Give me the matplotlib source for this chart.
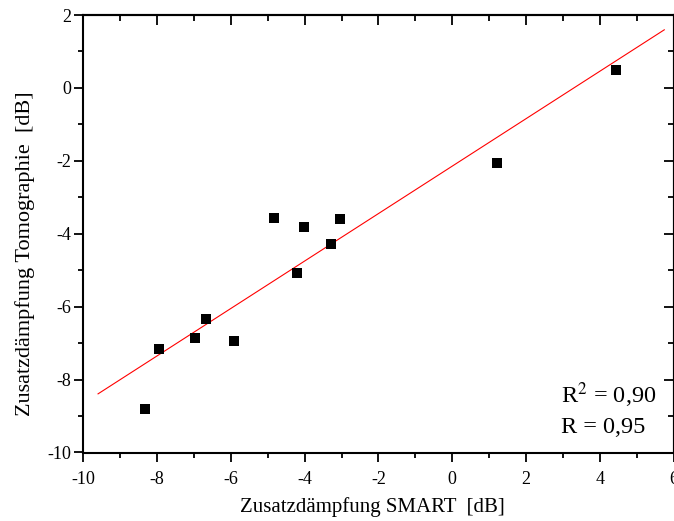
# Zusatzdämpfung: SMART vs. tomography, with linear fit

import numpy as np
import matplotlib
matplotlib.use("Agg")
import matplotlib.pyplot as plt
from matplotlib.ticker import MultipleLocator

smart_db = [-8.33, -7.95, -6.97, -6.68, -5.91, -4.82, -4.03, -3.05, -3.29,
            -4.21, 1.21, 4.45]
tomo_db = [-8.81, -7.17, -6.86, -6.33, -6.93, -3.58, -3.81, -3.60, -4.27,
           -5.08, -2.06, 0.49]
fit_range = [-9.6, 5.75]


def main():
    plt.rcParams["font.family"] = ["Liberation Serif", "DejaVu Serif"]
    plt.rcParams["mathtext.fontset"] = "stix"
    plt.rcParams["axes.unicode_minus"] = False

    fig = plt.figure(figsize=(6.74, 5.21), dpi=100)
    ax = fig.add_axes([83.3 / 674, 1 - 452.5 / 521, (673.5 - 83.3) / 674,
                       (452.5 - 15) / 521])

    x = np.array(smart_db)
    y = np.array(tomo_db)
    slope, icpt = np.polyfit(x, y, 1)
    r = np.corrcoef(x, y)[0, 1]

    xf = np.array(fit_range)
    ax.plot(xf, slope * xf + icpt, color="red", lw=0.8, zorder=2)
    ax.plot(x, y, "s", color="black", ms=7.4, mew=0, zorder=3)

    ax.set_xlim(-10, 6)
    ax.set_ylim(-10, 2)
    ax.xaxis.set_major_locator(MultipleLocator(2))
    ax.xaxis.set_minor_locator(MultipleLocator(1))
    ax.yaxis.set_major_locator(MultipleLocator(2))
    ax.yaxis.set_minor_locator(MultipleLocator(1))

    for sp in ax.spines.values():
        sp.set_linewidth(1.5)
    ax.tick_params(which="both", direction="out", width=1.3, labelsize=13)
    ax.tick_params(which="major", length=6.8, pad=6.5)
    ax.tick_params(which="minor", length=3.8)
    ax.tick_params(axis="y", which="major", pad=2)

    # mirrored axes on top and right, ticks pointing inward
    for pos, axis in (("top", ax.secondary_xaxis("top")),
                      ("right", ax.secondary_yaxis("right"))):
        axis.spines[pos].set_linewidth(1.5)
        sub = axis.xaxis if pos == "top" else axis.yaxis
        sub.set_major_locator(MultipleLocator(2))
        sub.set_minor_locator(MultipleLocator(1))
        axis.tick_params(which="both", direction="in", width=1.3,
                         labelsize=13)
        axis.tick_params(which="major", length=7)
        axis.tick_params(which="minor", length=4)
        if pos == "top":
            axis.set_xticklabels([])
        else:
            axis.set_yticklabels([])

    ax.set_xlabel("Zusatzdämpfung SMART  [dB]", fontsize=15)
    ax.set_ylabel("Zusatzdämpfung Tomographie  [dB]", fontsize=16)
    ax.xaxis.set_label_coords(0.49, -0.101)
    ax.yaxis.set_label_coords(-0.082, 0.455)

    r2_txt = f"{r ** 2:.2f}".replace(".", ",")
    r_txt = f"{r:.2f}".replace(".", ",")
    ax.text(0.81, 0.1125, "R$^2$ = " + r2_txt, transform=ax.transAxes,
            fontsize=17.5, va="baseline")
    ax.text(0.81, 0.044, "R = " + r_txt, transform=ax.transAxes,
            fontsize=17.5, va="baseline")

    fig.savefig("out.png", dpi=100)


if __name__ == "__main__":
    main()
